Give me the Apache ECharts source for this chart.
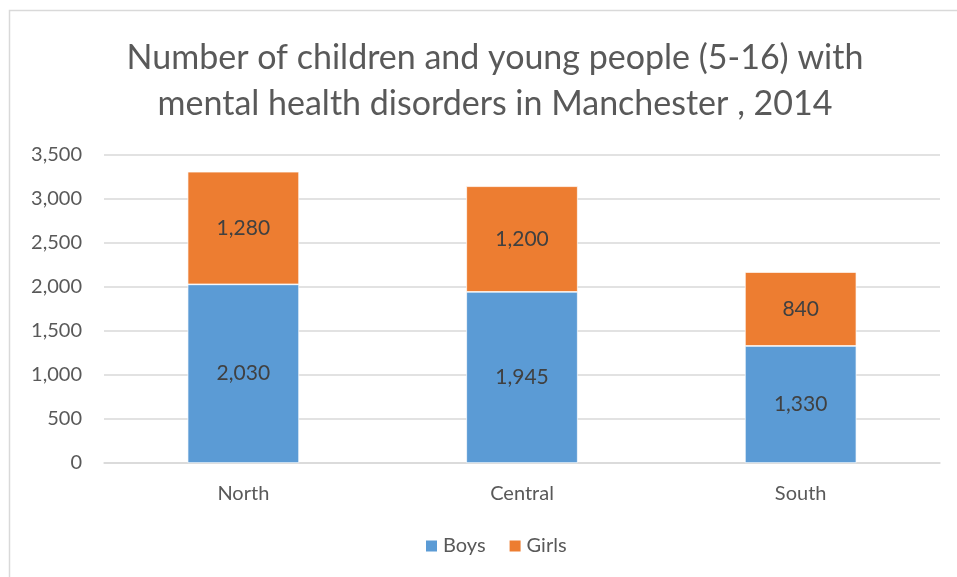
<!DOCTYPE html>
<html>
<head>
<meta charset="utf-8">
<script src="https://cdn.jsdelivr.net/npm/echarts@6/dist/echarts.min.js"></script>
<style>
  html, body { margin: 0; padding: 0; background: #fff; }
  #chart { width: 957px; height: 577px; }
</style>
</head>
<body>
<div id="chart"></div>
<script>
// data
let regions = ['North', 'Central', 'South'];
let boys = [2030, 1945, 1330];
let girls = [1280, 1200, 840];

let font = 'Lato';
let myChart = echarts.init(document.getElementById('chart'));

function fmt(v) {
    return v.toLocaleString('en-US');
}

let option = {
    backgroundColor: '#fff',
    animation: false,
    graphic: [
        {
            type: 'rect',
            shape: { x: 9.5, y: 10.5, width: 1000, height: 1000 },
            style: { fill: 'none', stroke: '#d9d9d9', lineWidth: 1.5 },
            silent: true
        }
    ],
    title: {
        text: 'Number of children and young people (5-16) with\nmental health disorders in Manchester , 2014',
        left: 490,
        textAlign: 'center',
        top: 30,
        textStyle: {
            fontFamily: font,
            fontSize: 34,
            fontWeight: 'normal',
            color: '#595959',
            lineHeight: 46
        }
    },
    legend: {
        data: ['Boys', 'Girls'],
        bottom: 16,
        left: 419,
        itemWidth: 13,
        itemHeight: 13,
        itemGap: 22,
        icon: 'rect',
        textStyle: { fontFamily: font, fontSize: 20, color: '#595959' }
    },
    grid: {
        left: 104,
        right: 17,
        top: 155,
        bottom: 114
    },
    xAxis: {
        type: 'category',
        data: regions,
        axisTick: { show: false },
        axisLine: { lineStyle: { color: '#d9d9d9', width: 1.5 } },
        axisLabel: { fontFamily: font, fontSize: 20, color: '#595959', margin: 21 }
    },
    yAxis: {
        type: 'value',
        min: 0,
        max: 3500,
        interval: 500,
        axisLine: { show: false },
        axisTick: { show: false },
        splitLine: { lineStyle: { color: '#d9d9d9', width: 1.5 } },
        axisLabel: {
            fontFamily: font, fontSize: 20, color: '#595959', margin: 22,
            formatter: function (v) { return fmt(v); }
        }
    },
    series: [
        {
            name: 'Boys',
            type: 'bar',
            stack: 'total',
            barWidth: '40%',
            data: boys,
            itemStyle: { color: '#5b9bd5', borderColor: '#fff', borderWidth: 0.7 },
            label: {
                show: true, position: 'inside',
                fontFamily: font, fontSize: 21, color: '#404040',
                formatter: function (p) { return fmt(p.value); }
            }
        },
        {
            name: 'Girls',
            type: 'bar',
            stack: 'total',
            barWidth: '40%',
            data: girls,
            itemStyle: { color: '#ed7d31', borderColor: '#fff', borderWidth: 0.7 },
            label: {
                show: true, position: 'inside',
                fontFamily: font, fontSize: 21, color: '#404040',
                formatter: function (p) { return fmt(p.value); }
            }
        }
    ]
};

myChart.setOption(option);
</script>
</body>
</html>
